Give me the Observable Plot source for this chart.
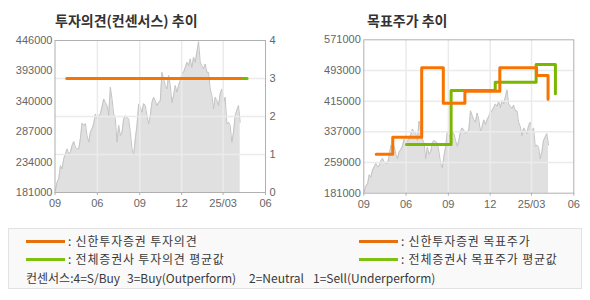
<!DOCTYPE html>
<html><head><meta charset="utf-8">
<script src="https://cdn.jsdelivr.net/npm/d3@7"></script>
<script src="https://cdn.jsdelivr.net/npm/@observablehq/plot@0.6"></script>
<style>
body{margin:0;background:#fff;}
#wrap{position:relative;width:590px;height:300px;overflow:hidden;font-family:"Noto Sans CJK KR",sans-serif;background:#fff;}
.title{position:absolute;top:11px;font-size:14px;font-weight:bold;color:#333;line-height:18px;white-space:nowrap;}
#c1{position:absolute;left:0;top:0;}
#c2{position:absolute;left:295px;top:0;}
#legend{position:absolute;left:8px;top:228px;width:574px;height:61px;background:#f9f9f9;border:1px solid #e2e2e2;box-sizing:border-box;}
.sw{position:absolute;height:3px;width:39px;}
.lt{position:absolute;font-size:12px;color:#3a3a3a;line-height:14px;white-space:pre;}
.lk{letter-spacing:0.8px;}
</style></head>
<body>
<div id="wrap">
  <div id="c1"></div>
  <div id="c2"></div>
  <div class="title" style="left:55px">투자의견(컨센서스) 추이</div>
  <div class="title" style="left:367px">목표주가 추이</div>
  <div id="legend"></div>
</div>
<script>
// ---- data ----
const xTickDates = ["2024-03-01","2024-06-01","2024-09-01","2024-12-01","2025-03-01","2025-06-01"];
const xTickLabels = ["09","06","09","12","25/03","06"];

const priceStart = "2024-03-02";
const priceEnd = "2025-04-07";
const priceValues = [
184500,199000,205000,228000,222000,240000,248000,257000,248000,251000,
263000,270000,260000,257000,257000,275000,302000,298000,301000,280000,
269000,286000,292000,301000,318000,309000,315000,318000,330000,344000,
338000,333000,315000,364500,344000,318000,309000,269000,298000,280000,
286000,309000,315000,312000,309000,286000,257000,245500,275000,298000,
335500,330000,321000,336000,
332500,315000,300500,315000,338000,347000,341000,332500,338000,341000,
390500,379000,367500,361500,385000,367500,338000,350000,367500,356000,
367500,376000,388000,390500,399000,408000,402000,414000,399000,417000,
408000,425500,444000,408000,402000,396500,405000,390500,390500,361500,
350000,327000,347000,341000,332500,353000,361500,338000,347000,300500,
303500,298000,268500,286000,315000,324000,332500,303500
];

// investment opinion (1..4 scale)
const opinionShinhanDates = ["2024-03-27","2025-04-06"];
const opinionShinhanValues = [3,3];
const opinionAvgDates = ["2024-03-27","2025-04-22"];
const opinionAvgValues = [3,3];

// target prices (step lines)
const targetShinhanDates = ["2024-03-28","2024-05-03","2024-07-05","2024-08-21","2024-10-07","2024-12-22","2025-03-12","2025-04-06"];
const targetShinhanValues = [280000,323000,500000,410000,440000,500000,480000,420000];
const targetAvgDates = ["2024-06-02","2024-09-07","2024-12-12","2025-03-11","2025-04-22"];
const targetAvgValues = [305000,442000,463000,508000,434000];

const leftPriceTicks = [181000,234000,287000,340000,393000,446000];
const opinionTicks = [0,1,2,3,4];
const rightPriceTicks = [181000,259000,337000,415000,493000,571000];

const ORANGE = "#f77400";
const GREEN = "#7ab800";
const ORANGE_LG = "#e8700c";
const GREEN_LG = "#80c010";

// ---- build tables ----
const t0 = new Date(priceStart).getTime(), t1 = new Date(priceEnd).getTime();
const price = priceValues.map((v,i)=>({date:new Date(t0 + i*(t1-t0)/(priceValues.length-1)), value:v}));
const pairs = (ds,vs)=>ds.map((d,i)=>({date:new Date(d), value:vs[i]}));
const opS = pairs(opinionShinhanDates, opinionShinhanValues);
const opA = pairs(opinionAvgDates, opinionAvgValues);
const tgS = pairs(targetShinhanDates, targetShinhanValues);
const tgA = pairs(targetAvgDates, targetAvgValues);
const xTicks = xTickDates.map(d=>new Date(d));
const xLabel = new Map(xTicks.map((d,i)=>[d.getTime(), xTickLabels[i]]));
const xDomain = [xTicks[0], xTicks[xTicks.length-1]];

const yL = [leftPriceTicks[0], leftPriceTicks[leftPriceTicks.length-1]];
const toP = v => yL[0] + v*(yL[1]-yL[0])/4;
const opLabel = new Map(opinionTicks.map(v=>[toP(v), String(v)]));

const axisStyle = {fontFamily:"'Liberation Sans', Arial, sans-serif", fontSize:"11px", color:"#666", background:"transparent", overflow:"visible"};
const GRID = "#ebebeb";

const left = Plot.plot({
  width:295, height:220, marginLeft:54.5, marginRight:30, marginTop:40, marginBottom:28,
  style:axisStyle,
  x:{type:"utc", domain:xDomain, label:null},
  y:{domain:yL, label:null},
  marks:[
    Plot.areaY(price,{x:"date", y1:()=>yL[0], y2:"value", fill:"#e0e0e0"}),
    Plot.lineY(price,{x:"date", y:"value", stroke:"#c4c4c4", strokeWidth:1}),
    Plot.ruleY(opinionTicks.slice(1,4).map(toP),{stroke:GRID, strokeWidth:1.5}),
    Plot.ruleX(xTicks.slice(1,5),{stroke:GRID, strokeWidth:1.5}),
    Plot.line(opA,{x:"date", y:d=>toP(d.value), stroke:GREEN, strokeWidth:3}),
    Plot.line(opS,{x:"date", y:d=>toP(d.value), stroke:ORANGE, strokeWidth:3}),
    Plot.frame({stroke:"#b0b0b0"}),
    Plot.axisY(leftPriceTicks,{anchor:"left", label:null, tickSize:0, tickPadding:2.5, tickFormat:d=>String(d)}),
    Plot.axisY(opinionTicks.map(toP),{anchor:"right", label:null, tickSize:0, tickPadding:4, tickFormat:d=>opLabel.get(d)}),
    Plot.axisX(xTicks,{anchor:"bottom", label:null, tickSize:3, tickPadding:4, stroke:"#b0b0b0", tickFormat:d=>xLabel.get(d.getTime())})
  ]
});
document.getElementById("c1").appendChild(left);

const right = Plot.plot({
  width:295, height:220, marginLeft:68.3, marginRight:16.7, marginTop:39.3, marginBottom:27.3,
  style:axisStyle,
  x:{type:"utc", domain:xDomain, label:null},
  y:{domain:[rightPriceTicks[0], rightPriceTicks[rightPriceTicks.length-1]], label:null},
  marks:[
    Plot.areaY(price,{x:"date", y1:()=>rightPriceTicks[0], y2:"value", fill:"#e0e0e0"}),
    Plot.lineY(price,{x:"date", y:"value", stroke:"#c4c4c4", strokeWidth:1}),
    Plot.ruleY(rightPriceTicks.slice(1,5),{stroke:GRID, strokeWidth:1.5}),
    Plot.ruleX(xTicks.slice(1,5),{stroke:GRID, strokeWidth:1.5}),
    Plot.line(tgA,{x:"date", y:"value", stroke:GREEN, strokeWidth:3, curve:"step-after"}),
    Plot.line(tgS,{x:"date", y:"value", stroke:ORANGE, strokeWidth:3, curve:"step-after"}),
    Plot.frame({stroke:"#b0b0b0"}),
    Plot.axisY(rightPriceTicks,{anchor:"left", label:null, tickSize:0, tickPadding:3, tickFormat:d=>String(d)}),
    Plot.axisX(xTicks,{anchor:"bottom", label:null, tickSize:3, tickPadding:4, stroke:"#b0b0b0", tickFormat:d=>xLabel.get(d.getTime())})
  ]
});
document.getElementById("c2").appendChild(right);

// ---- legend ----
const legendItems = [
  {color:ORANGE_LG, label:": 신한투자증권 투자의견", x:17, y:11},
  {color:GREEN_LG, label:": 전체증권사 투자의견 평균값", x:17, y:29},
  {color:ORANGE_LG, label:": 신한투자증권 목표주가", x:350, y:11},
  {color:GREEN_LG, label:": 전체증권사 목표주가 평균값", x:350, y:29}
];
const consensusParts = ["컨센서스:4=S/Buy","3=Buy(Outperform)","2=Neutral","1=Sell(Underperform)"];
const consensusX = [17, 118, 240, 304];
const lg = document.getElementById("legend");
legendItems.forEach(it=>{
  const s=document.createElement("div"); s.className="sw";
  s.style.left=it.x+"px"; s.style.top=(it.y)+"px"; s.style.background=it.color; lg.appendChild(s);
  const t=document.createElement("div"); t.className="lt lk";
  t.style.left=(it.x+42)+"px"; t.style.top=(it.y-6)+"px"; t.textContent=it.label; lg.appendChild(t);
});
consensusParts.forEach((p,i)=>{
  const t=document.createElement("div"); t.className="lt";
  t.style.left=consensusX[i]+"px"; t.style.top="42px"; t.textContent=p; lg.appendChild(t);
});
</script>
</body></html>
